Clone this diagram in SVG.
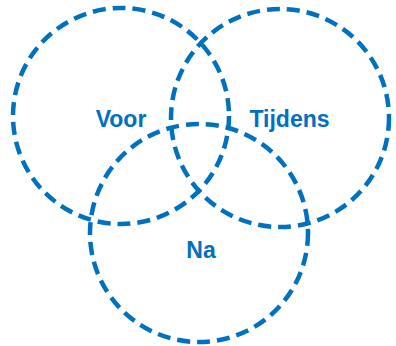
<svg xmlns="http://www.w3.org/2000/svg" width="396" height="346" viewBox="0 0 396 346">
<style>
.c{fill:none;stroke:#0070C0;stroke-width:4.5;stroke-dasharray:13 7}
.t{font-family:"Liberation Sans",Arial,sans-serif;font-weight:bold;font-size:23px;fill:#0070C0;text-anchor:middle}
</style>
<rect width="396" height="346" fill="#fff"/>
<g id="voor"><circle class="c" cx="121" cy="116" r="108"/><text class="t" x="121" y="127">Voor</text></g>
<g id="tijdens"><circle class="c" cx="280" cy="118" r="109"/><text class="t" x="289.5" y="127">Tijdens</text></g>
<g id="na"><circle class="c" cx="199" cy="233" r="109"/><text class="t" x="201" y="258">Na</text></g>
<g id="connectors"></g>
</svg>
